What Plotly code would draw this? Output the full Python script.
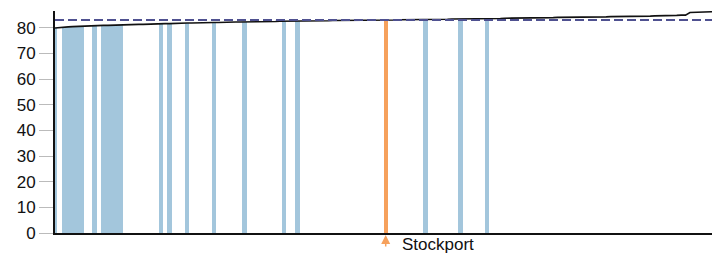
import plotly.graph_objects as go

# Ranked values (150 areas)
values = [
    79.9, 80.1, 80.2, 80.3, 80.4, 80.5, 80.6, 80.6, 80.7, 80.8,
    80.8, 80.9, 80.9, 81.0, 81.0, 81.1, 81.1, 81.2, 81.2, 81.3,
    81.3, 81.4, 81.4, 81.5, 81.5, 81.6, 81.6, 81.7, 81.7, 81.8,
    81.8, 81.8, 81.9, 81.9, 81.9, 82.0, 82.0, 82.0, 82.1, 82.1,
    82.1, 82.2, 82.2, 82.2, 82.3, 82.3, 82.3, 82.3, 82.4, 82.4,
    82.4, 82.5, 82.5, 82.5, 82.5, 82.6, 82.6, 82.6, 82.6, 82.7,
    82.7, 82.7, 82.7, 82.8, 82.8, 82.8, 82.8, 82.8, 82.9, 82.9,
    82.9, 82.9, 82.9, 83.0, 83.0, 83.0, 83.0, 83.0, 83.1, 83.1,
    83.1, 83.1, 83.2, 83.2, 83.2, 83.2, 83.3, 83.3, 83.3, 83.3,
    83.4, 83.4, 83.4, 83.4, 83.5, 83.5, 83.5, 83.5, 83.6, 83.6,
    83.6, 83.6, 83.7, 83.7, 83.7, 83.7, 83.8, 83.8, 83.8, 83.8,
    83.9, 83.9, 83.9, 83.9, 84.0, 84.0, 84.0, 84.0, 84.1, 84.1,
    84.1, 84.1, 84.2, 84.2, 84.2, 84.2, 84.3, 84.3, 84.3, 84.3,
    84.4, 84.4, 84.4, 84.5, 84.5, 84.5, 84.6, 84.6, 84.7, 84.7,
    84.8, 84.8, 84.9, 84.9, 85.9, 86.0, 86.0, 86.1, 86.1, 86.2,
]
categories = list(range(len(values)))

# Highlighted areas (same region) and the selected one
region_idx = [0, 2, 3, 4, 5, 6, 9, 11, 12, 13, 14, 15,
              24, 26, 30, 36, 43, 52, 55, 84, 92, 98]
selected_idx = 75
selected_name = "Stockport"
average_value = 83.0

y_ticks = [0, 10, 20, 30, 40, 50, 60, 70, 80]

fig = go.Figure()

fig.add_trace(go.Bar(
    x=[categories[i] for i in region_idx],
    y=[values[i] for i in region_idx],
    width=1, marker=dict(color="#a3c6dc", line=dict(width=0)),
    showlegend=False, hoverinfo="skip",
))
fig.add_trace(go.Bar(
    x=[categories[selected_idx]],
    y=[values[selected_idx]],
    width=1, marker=dict(color="#f6a15c", line=dict(width=0)),
    showlegend=False, hoverinfo="skip",
))
fig.add_trace(go.Scatter(
    x=categories, y=values, mode="lines",
    line=dict(color="#111111", width=1.6),
    showlegend=False, hoverinfo="skip", cliponaxis=False,
))

fig.add_shape(type="line", xref="paper", yref="y", x0=0, x1=1,
              y0=average_value, y1=average_value,
              line=dict(color="#4f5190", width=1.8, dash="9px,4px"))

fig.add_annotation(x=categories[selected_idx], y=0, xref="x", yref="y",
                   text="", showarrow=True, arrowhead=2, arrowsize=1.2,
                   arrowwidth=1.5, arrowcolor="#f6a15c",
                   ax=0, ay=15, standoff=2)
fig.add_annotation(x=categories[selected_idx], y=0, xref="x", yref="paper",
                   text=selected_name, showarrow=False, xanchor="left",
                   yanchor="middle", xshift=14, yshift=-11,
                   font=dict(size=17, color="#111111"))

fig.update_layout(
    width=723, height=254,
    margin=dict(l=55, r=11, t=11, b=21),
    paper_bgcolor="white", plot_bgcolor="white",
    bargap=0, barmode="overlay",
    font=dict(family="Liberation Sans, Arial, sans-serif", size=17, color="#111111"),
    xaxis=dict(range=[0, len(values) - 1], showticklabels=False,
               ticks="", showgrid=False, zeroline=False,
               showline=True, linecolor="#111111", linewidth=2),
    yaxis=dict(range=[0, 86.5], tickvals=y_ticks, ticks="outside",
               ticklen=14, tickcolor="#bbbbbb", tickwidth=1,
               showgrid=False, zeroline=False,
               showline=True, linecolor="#111111", linewidth=2,
               tickfont=dict(size=17)),
)

fig.write_html("out.html", config={"displayModeBar": False},
               post_script="document.body.style.margin='0';document.body.style.overflow='hidden';")
